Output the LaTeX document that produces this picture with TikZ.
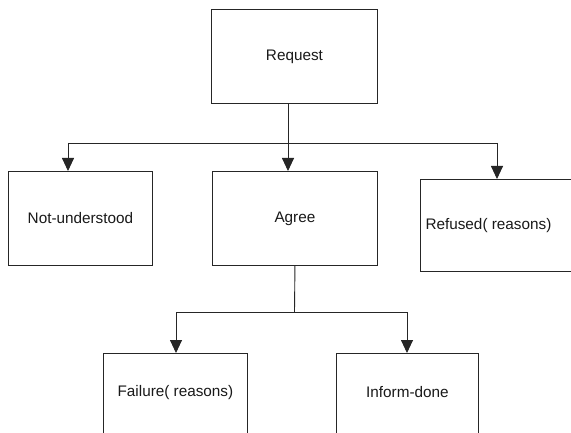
\documentclass[tikz,border=0pt]{standalone}
\usepackage{fontspec}
\setmainfont{Liberation Sans}
\usetikzlibrary{arrows.meta}
\tikzset{
  box/.style={draw=black!85, line width=0.9pt, rectangle, inner sep=0pt, anchor=north west,
    font=\fontsize{15.3}{18}\selectfont, text=black!90},
  lbl/.style={font=\fontsize{15.3}{18}\selectfont, text=black!90, inner sep=0pt},
  conn/.style={draw=black!85, line width=0.9pt},
  arr/.style={conn, -{Triangle[length=13pt,width=12pt]}}
}
\begin{document}
\begin{tikzpicture}[x=1pt,y=-1pt]
\fill[white] (0,0) rectangle (571,433);
\useasboundingbox (0,0) rectangle (571,433);
\clip (0,0) rectangle (571,433);
\node[box, minimum width=166pt, minimum height=94pt] (request) at (211,9) {Request};
\node[box, minimum width=144pt, minimum height=94pt] (notu) at (8,171) {Not-understood};
\node[box, minimum width=165pt, minimum height=94pt] (agree) at (212,171) {Agree};
\node[box, minimum width=170pt, minimum height=92pt,
  label={[lbl, xshift=-17pt]center:Refused( reasons)}] (refused) at (420,179) {};
\node[box, minimum width=144pt, minimum height=94pt,
  label={[lbl, yshift=8pt]center:Failure( reasons)}] (fail) at (103,353) {};
\node[box, minimum width=142pt, minimum height=94pt,
  label={[lbl, yshift=8pt]center:Inform-done}] (inform) at (336,353) {};
\coordinate (j1) at (288,143);
\coordinate (cL) at (68,143);
\coordinate (cR) at (497,143);
\coordinate (j2) at (294.5,312);
\coordinate (dL) at (176,312);
\coordinate (dR) at (407,312);
\draw[arr] (request.south -| j1) -- (agree.north -| j1);
\draw[conn] (cL) -- (cR);
\draw[arr] (cL) -- (notu.north -| cL);
\draw[arr] (cR) -- (refused.north -| cR);
\draw[conn] (agree.south) -- (j2);
\draw[conn] (dL) -- (dR);
\draw[arr] (dL) -- (fail.north -| dL);
\draw[arr] (dR) -- (inform.north -| dR);
\end{tikzpicture}
\end{document}
